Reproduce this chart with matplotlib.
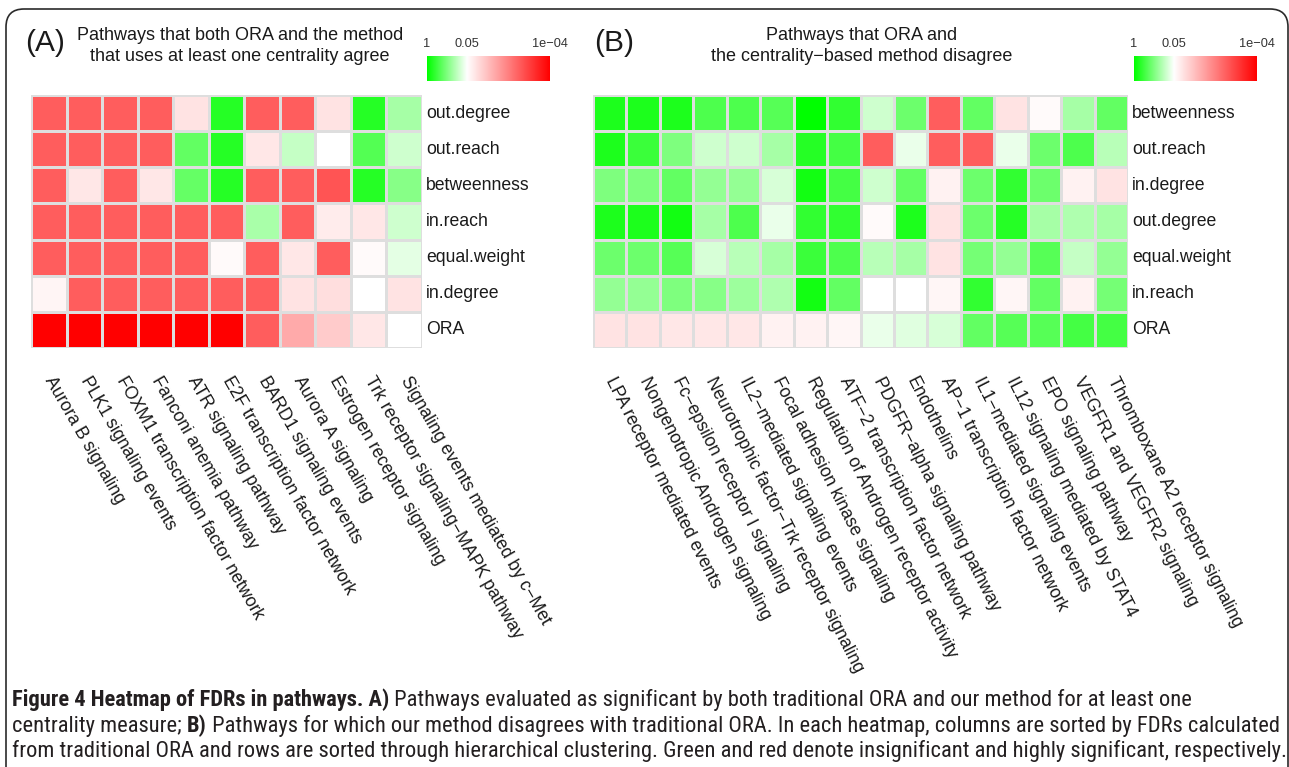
import numpy as np
import matplotlib
matplotlib.use("Agg")
import matplotlib.pyplot as plt
from matplotlib.colors import LinearSegmentedColormap, Normalize
from matplotlib.patches import FancyBboxPatch
from matplotlib.transforms import IdentityTransform
from matplotlib import font_manager

# ---------------- data (values are -log10(FDR)) ----------------
rows_A = ["out.degree", "out.reach", "betweenness", "in.reach", "equal.weight", "in.degree", "ORA"]
cols_A = ["Aurora B signaling", "PLK1 signaling events", "FOXM1 transcription factor network",
          "Fanconi anemia pathway", "ATR signaling pathway", "E2F transcription factor network",
          "BARD1 signaling events", "Aurora A signaling", "Estrogen receptor signaling",
          "Trk receptor signaling\u2212MAPK pathway", "Signaling events mediated by c\u2212Met"]
out_degree_A   = [3.0, 3.0, 3.0, 3.0, 1.6, 0.2, 3.0, 3.0, 1.6, 0.2, 0.85]
out_reach_A    = [3.0, 3.0, 3.0, 3.0, 0.5, 0.2, 1.55, 1.0, 1.3, 0.43, 1.05]
betweenness_A  = [3.0, 1.55, 3.0, 1.55, 0.52, 0.2, 3.0, 3.0, 3.1, 0.2, 0.7]
in_reach_A     = [3.0, 3.0, 3.0, 3.0, 3.0, 3.0, 0.87, 3.0, 1.5, 1.55, 1.05]
equal_weight_A = [3.0, 3.0, 3.0, 3.0, 3.0, 1.35, 3.0, 1.55, 3.0, 1.35, 1.17]
in_degree_A    = [1.42, 3.0, 3.0, 3.0, 3.0, 3.0, 3.0, 1.6, 1.65, 1.3, 1.6]
ora_A          = [4.0, 4.0, 4.0, 4.0, 4.0, 4.0, 3.0, 2.2, 1.85, 1.55, 1.3]

rows_B = ["betweenness", "out.reach", "in.degree", "out.degree", "equal.weight", "in.reach", "ORA"]
cols_B = ["LPA receptor mediated events", "Nongenotropic Androgen signaling",
          "Fc\u2212epsilon receptor I signaling", "Neurotrophic factor\u2212Trk receptor signaling",
          "IL2\u2212mediated signaling events", "Focal adhesion kinase signaling",
          "Regulation of Androgen receptor activity", "ATF\u22122 transcription factor network",
          "PDGFR\u2212alpha signaling pathway", "Endothelins", "AP\u22121 transcription factor network",
          "IL1\u2212mediated signaling events", "IL12 signaling mediated by STAT4",
          "EPO signaling pathway", "VEGFR1 and VEGFR2 signaling", "Thromboxane A2 receptor signaling"]
betweenness_B  = [0.15, 0.15, 0.15, 0.4, 0.4, 0.45, 0.0, 0.25, 1.05, 0.55, 3.0, 0.5, 1.6, 1.35, 0.85, 0.5]
out_reach_B    = [0.15, 0.3, 0.65, 1.05, 1.05, 0.85, 0.2, 0.35, 3.0, 1.2, 3.0, 3.0, 1.2, 0.55, 0.4, 0.95]
in_degree_B    = [0.65, 0.65, 0.5, 0.75, 0.75, 1.1, 0.1, 0.35, 1.05, 0.5, 1.45, 0.55, 0.25, 0.55, 1.45, 1.6]
out_degree_B   = [0.15, 0.15, 0.1, 0.85, 0.4, 1.2, 0.25, 0.25, 1.35, 0.15, 1.6, 0.55, 0.2, 0.85, 0.9, 0.85]
equal_weight_B = [0.55, 0.55, 0.45, 1.1, 0.95, 0.85, 0.3, 0.4, 0.95, 0.85, 1.6, 0.6, 0.75, 0.45, 1.0, 0.75]
in_reach_B     = [0.75, 0.75, 0.65, 0.7, 0.8, 0.9, 0.1, 0.5, 1.3, 1.3, 1.4, 0.25, 1.4, 0.5, 1.45, 0.6]
ora_B          = [1.6, 1.6, 1.55, 1.55, 1.55, 1.45, 1.45, 1.4, 1.2, 1.15, 1.1, 0.5, 0.45, 0.45, 0.35, 0.35]

cbar_tick_fdr = [1, 0.05, 1e-4]
cbar_tick_labels = ["1", "0.05", "1e\u221204"]

title_A = ["Pathways that both ORA and the method", "that uses at least one centrality agree"]
title_B = ["Pathways that ORA and", "the centrality\u2212based method disagree"]

caption = [
    [("Figure 4 Heatmap of FDRs in pathways. A)", True),
     (" Pathways evaluated as significant by both traditional ORA and our method for at least one", False)],
    [("centrality measure; ", False), ("B)", True),
     (" Pathways for which our method disagrees with traditional ORA. In each heatmap, columns are sorted by FDRs calculated", False)],
    [("from traditional ORA and rows are sorted through hierarchical clustering. Green and red denote insignificant and highly significant, respectively.", False)],
]

# ---------------- figure ----------------
W, H, DPI = 1289, 767, 100
FONT = ["Liberation Sans", "DejaVu Sans"]
plt.rcParams["font.family"] = FONT
fig = plt.figure(figsize=(W / DPI, H / DPI), dpi=DPI)
fig.patch.set_facecolor("white")

def px_axes(x0, y0, x1, y1):
    return fig.add_axes([x0 / W, 1 - y1 / H, (x1 - x0) / W, (y1 - y0) / H])

VMAX = 4.0
WHITE_AT = -np.log10(0.05)
cmap = LinearSegmentedColormap.from_list(
    "gwr", [(0.0, "#00ff00"), (WHITE_AT / VMAX, "#ffffff"), (1.0, "#ff0000")])
norm = Normalize(0, VMAX)
TXT = "#1a1a1a"

def heatmap(box, vals, rows, cols, rot):
    ax = px_axes(*box)
    data = np.array(vals)
    ax.pcolormesh(data, cmap=cmap, norm=norm, edgecolors="#dedede", linewidth=1.0)
    ax.set_xlim(0, len(cols))
    ax.set_ylim(len(rows), 0)
    ax.axis("off")
    for i, r in enumerate(rows):
        ax.annotate(r, xy=(1, i + 0.5), xycoords=("axes fraction", "data"),
                    xytext=(4, 0), textcoords="offset pixels",
                    ha="left", va="center", fontsize=12.7, color=TXT)
    for j, c in enumerate(cols):
        ax.annotate(c, xy=(j + 0.5, len(rows)), xycoords="data",
                    xytext=(0, -30), textcoords="offset pixels",
                    ha="left", va="center", rotation=rot, rotation_mode="anchor",
                    fontsize=12.7, color=TXT)
    return ax

def colorbar(x0, x1, y0, y1):
    ax = px_axes(x0, y0, x1, y1)
    grad = np.linspace(0, VMAX, 256)[None, :]
    ax.imshow(grad, cmap=cmap, norm=norm, aspect="auto", extent=(0, VMAX, 0, 1))
    ax.axis("off")
    for f, lab in zip(cbar_tick_fdr, cbar_tick_labels):
        v = -np.log10(f)
        ax.annotate(lab, xy=(v, 1), xycoords=("data", "axes fraction"),
                    xytext=(0, 12), textcoords="offset pixels",
                    ha="center", va="center", fontsize=9.2, color="#333333")

heatmap((31, 95, 422, 348),
        [out_degree_A, out_reach_A, betweenness_A, in_reach_A, equal_weight_A, in_degree_A, ora_A],
        rows_A, cols_A, -60)
heatmap((593, 95, 1128, 348),
        [betweenness_B, out_reach_B, in_degree_B, out_degree_B, equal_weight_B, in_reach_B, ora_B],
        rows_B, cols_B, -63)
colorbar(427, 550, 56, 81)
colorbar(1134, 1257, 56, 81)

# panel letters and titles
fig.text(25 / W, 1 - 43 / H, "(A)", fontsize=21.5, ha="left", va="center", color=TXT)
fig.text(594 / W, 1 - 43 / H, "(B)", fontsize=21.5, ha="left", va="center", color=TXT)
for k, line in enumerate(title_A):
    fig.text(240 / W, 1 - (40 + 21 * k) / H, line, fontsize=13, ha="center", va="baseline", color=TXT)
for k, line in enumerate(title_B):
    fig.text(862 / W, 1 - (40 + 21 * k) / H, line, fontsize=13, ha="center", va="baseline", color=TXT)

# outer rounded frame
frame = FancyBboxPatch((6, -40), 1282, H - 9 + 40, boxstyle="round,pad=0,rounding_size=18",
                       transform=IdentityTransform(), fill=False, ec="#2a2a2a", lw=1.2)
fig.add_artist(frame)

# caption with mixed bold / regular: a condensed face that has a non-bold weight, if installed
weights = {}
for f in font_manager.fontManager.ttflist:
    w = f.weight if isinstance(f.weight, int) else 400
    weights.setdefault(f.name, set()).add(w)
cap_family, reg_weight = "Roboto", 400
for cand in ["Liberation Sans Narrow", "Open Sans Condensed", "Roboto Condensed"]:
    ws = weights.get(cand, set())
    light = [w for w in ws if w <= 400]
    if light:
        cap_family, reg_weight = cand, max(light)
        break
renderer = fig.canvas.get_renderer()

def make(s, b, x=0, y=0, **kw):
    return fig.text(x, y, s, fontsize=kw.pop("size"), family=cap_family,
                    fontweight=700 if b else reg_weight, **kw)

def line_width(parts, size):
    tot = 0
    for s, b in parts:
        t = make(s, b, size=size)
        tot += t.get_window_extent(renderer).width
        t.remove()
    return tot

size = 12.0
w3 = line_width(caption[2], size)
size = size * (1268.0 / w3)
baselines = [706, 732, 757]
for parts, yb in zip(caption, baselines):
    x = 12.0
    for s, b in parts:
        t = make(s, b, x / W, 1 - yb / H, size=size, ha="left", va="baseline", color="#231f20")
        x += t.get_window_extent(renderer).width

fig.savefig("out.png", dpi=DPI, facecolor="white")
